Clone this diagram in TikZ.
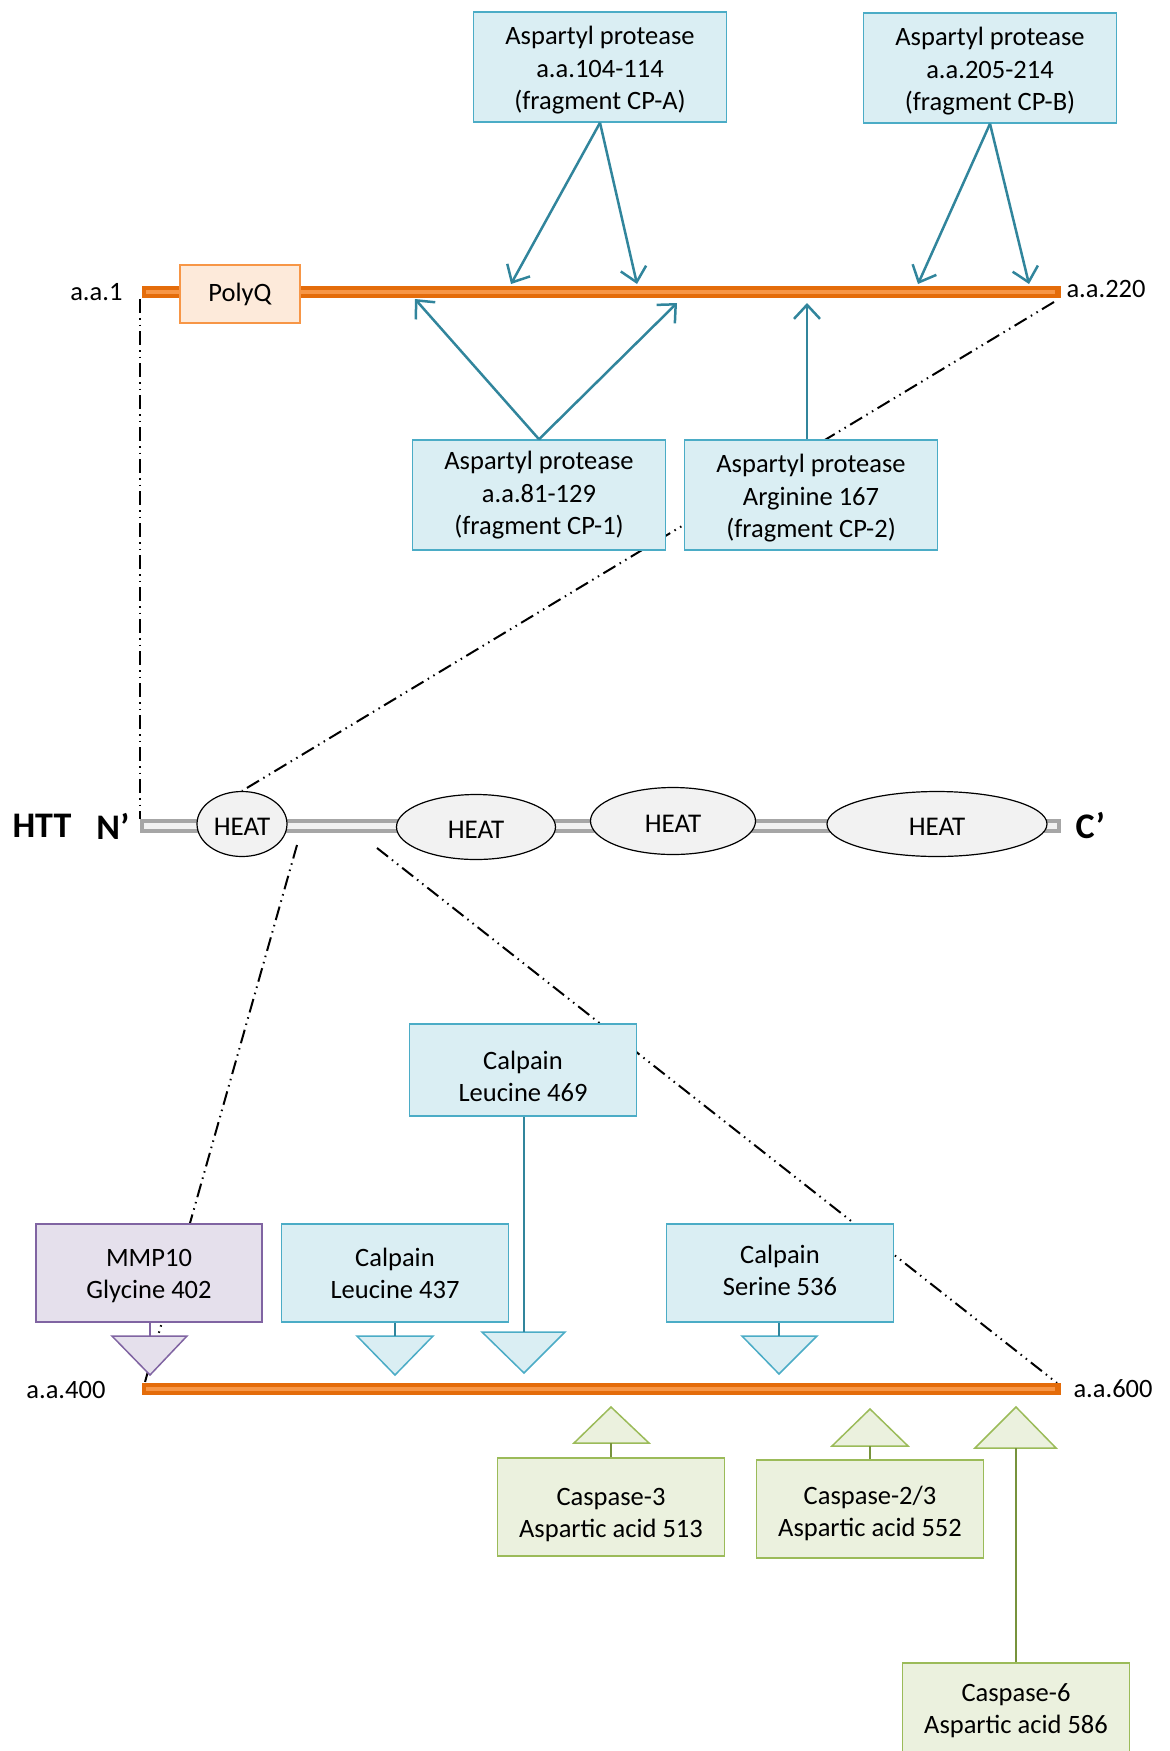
\documentclass[tikz,border=0pt]{standalone}
\usepackage{fontspec}
\setmainfont{Carlito}
\usepackage{tikz}
\usetikzlibrary{arrows.meta, shapes.geometric, positioning}
\definecolor{barorange}{HTML}{E46C0A}
\definecolor{barlight}{HTML}{F79646}
\definecolor{polyfill}{HTML}{FDEADA}
\definecolor{aspfill}{HTML}{DAEEF3}
\definecolor{aspdraw}{HTML}{4BACC6}
\definecolor{aspline}{HTML}{31859C}
\definecolor{mmpfill}{HTML}{E5E0EC}
\definecolor{mmpdraw}{HTML}{8064A2}
\definecolor{caspfill}{HTML}{EBF1DE}
\definecolor{caspdraw}{HTML}{9BBB59}
\definecolor{caspline}{HTML}{77933C}
\definecolor{httgray}{HTML}{A6A6A6}
\definecolor{httfill}{HTML}{F2F2F2}

\begin{document}
\begin{tikzpicture}[
    x=1pt, y=-1pt,
    txt/.style={font=\fontsize{26.5}{32.5}\selectfont, align=center},
    boxtxt/.style={txt, text height=#1, text depth=8pt},
    boxtxt/.default=59pt,
    aa/.style={font=\fontsize{26.5}{30}\selectfont},
    aspbox/.style={boxtxt=93pt, rectangle, draw=aspdraw, fill=aspfill, line width=1.5pt, minimum width=253pt, minimum height=110pt},
    calpbox/.style={boxtxt, rectangle, draw=aspdraw, fill=aspfill, line width=1.5pt, minimum width=227pt, minimum height=98pt},
    mmpbox/.style={boxtxt, rectangle, draw=mmpdraw, fill=mmpfill, line width=1.5pt, minimum width=226pt, minimum height=98pt},
    caspbox/.style={boxtxt=63pt, rectangle, draw=caspdraw, fill=caspfill, line width=1.5pt, minimum width=227pt, minimum height=98pt},
    heat/.style={ellipse, draw, fill=httfill, line width=1.2pt, font=\fontsize{27}{30}\selectfont, inner sep=0pt, text height=23pt, text depth=0pt},
    cut/.style={-{Straight Barb[length=14pt, width=26pt, line width=2.5pt]}, aspline, line width=2.5pt},
    zoomline/.style={line width=2pt, dash pattern=on 14pt off 5pt on 1.5pt off 5pt on 1.5pt off 5pt},
    bigfont/.style={font=\fontsize{36}{40}\selectfont\bfseries}
]
    \clip (0,0) rectangle (1170,1751);

    % HTT bar
    \fill[httgray] (140,819) rectangle (1061,833);
    \fill[httfill] (144,823) rectangle (1057,829);
    \node[heat, minimum width=90pt, minimum height=65pt] (heat1) at (242,824) {HEAT};
    \node[heat, minimum width=159pt, minimum height=65pt] (heat2) at (476,827) {HEAT};
    \node[heat, minimum width=165pt, minimum height=67pt] (heat3) at (673,821) {HEAT};
    \node[heat, minimum width=220pt, minimum height=65pt] (heat4) at (937,824) {HEAT};
    \node[bigfont, anchor=west] (htt) at (9,826) {HTT};
    \node[bigfont, anchor=east] (nterm) at (133,826) {N’};
    \node[bigfont, anchor=west] (cterm) at (1072,826) {C’};

    % Zoom lines
    \coordinate (top-l) at (140,299);
    \coordinate (top-r) at (1054,302);
    \coordinate (low-l) at (145,1382);
    \coordinate (low-r) at (1057,1383);
    \coordinate (htt-l) at (140,819);
    \coordinate (zoom-a) at (297,845);
    \coordinate (zoom-b) at (377,848);
    \draw[zoomline] (top-l) -- (htt-l);
    \draw[zoomline] (top-r) -- (heat1.north);
    \draw[zoomline] (zoom-a) -- (low-l);
    \draw[zoomline] (zoom-b) -- (low-r);

    % a.a.1 - a.a.220
    \fill[barorange] (142,286) rectangle (1061,298);
    \fill[barlight] (146,290) rectangle (1055,294);
    \node[aa, anchor=east] (aa1) at (126,292) {a.a.1};
    \node[aa, anchor=west] (aa220) at (1063,289) {a.a.220};
    \node[txt, rectangle, draw=barlight, fill=polyfill, line width=1.5pt, minimum width=120pt, minimum height=58pt] (polyq) at (240,294) {PolyQ};

    % Aspartyl protease
    \node[aspbox] (cpa) at (600,67) {Aspartyl protease\\a.a.104-114\\(fragment CP-A)};
    \node[aspbox] (cpb) at (990,68) {Aspartyl protease\\a.a.205-214\\(fragment CP-B)};
    \node[aspbox, boxtxt=87pt] (cp1) at (539,495) {Aspartyl protease\\a.a.81-129\\(fragment CP-1)};
    \node[aspbox] (cp2) at (811,495) {Aspartyl protease\\Arginine 167\\(fragment CP-2)};
    \coordinate (sa1) at (511,284);
    \coordinate (sa2) at (637,284);
    \coordinate (sb1) at (918,284);
    \coordinate (sb2) at (1029,284);
    \coordinate (s11) at (415,299);
    \coordinate (s12) at (677,303);
    \coordinate (s2) at (807,303);
    \draw[cut] (cpa.south) -- (sa1);
    \draw[cut] (cpa.south) -- (sa2);
    \draw[cut] (cpb.south) -- (sb1);
    \draw[cut] (cpb.south) -- (sb2);
    \draw[cut] (cp1.north) -- (s11);
    \draw[cut] (cp1.north) -- (s12);
    \draw[cut] (cp2.north -| s2) -- (s2);

    % a.a.400 - a.a.600
    \fill[barorange] (142,1383) rectangle (1061,1395);
    \fill[barlight] (146,1387) rectangle (1055,1391);
    \node[aa, anchor=east] (aa400) at (109,1390) {a.a.400};
    \node[aa, anchor=west] (aa600) at (1070,1389) {a.a.600};

    % MMP10 and calpain
    \node[mmpbox] (mmp) at (149,1273) {MMP10\\Glycine 402};
    \node[calpbox] (c437) at (395,1273) {Calpain\\Leucine 437};
    \node[calpbox, boxtxt=71pt, minimum height=92pt] (c469) at (523,1070) {Calpain\\Leucine 469};
    \node[calpbox, boxtxt=53pt] (c536) at (780,1273) {Calpain\\Serine 536};
    \filldraw[draw=mmpdraw, fill=mmpfill, line width=1.5pt] (112,1336) -- (187,1336) -- (150,1375) -- cycle;
    \filldraw[draw=aspdraw, fill=aspfill, line width=1.5pt] (357,1336) -- (433,1336) -- (395,1375) -- cycle;
    \filldraw[draw=aspdraw, fill=aspfill, line width=1.5pt] (482,1332) -- (565,1332) -- (524,1373) -- cycle;
    \filldraw[draw=aspdraw, fill=aspfill, line width=1.5pt] (742,1336) -- (817,1336) -- (779,1374) -- cycle;
    \coordinate (tmmp) at (150,1336);
    \coordinate (t437) at (395,1336);
    \coordinate (t469) at (524,1332);
    \coordinate (t536) at (779,1336);
    \draw[mmpdraw, line width=1.5pt] (mmp.south -| tmmp) -- (tmmp);
    \draw[aspline, line width=1.5pt] (c437.south) -- (t437);
    \draw[aspline, line width=1.5pt] (c469.south -| t469) -- (t469);
    \draw[aspline, line width=1.5pt] (c536.south -| t536) -- (t536);

    % Caspases
    \node[caspbox, boxtxt=69pt] (cs3) at (611,1507) {Caspase-3\\Aspartic acid 513};
    \node[caspbox] (cs23) at (870,1509) {Caspase-2/3\\Aspartic acid 552};
    \node[caspbox, boxtxt=51pt] (cs6) at (1016,1712) {Caspase-6\\Aspartic acid 586};
    \filldraw[draw=caspdraw, fill=caspfill, line width=1.5pt] (574,1443) -- (649,1443) -- (611,1407) -- cycle;
    \filldraw[draw=caspdraw, fill=caspfill, line width=1.5pt] (832,1446) -- (908,1446) -- (870,1409) -- cycle;
    \filldraw[draw=caspdraw, fill=caspfill, line width=1.5pt] (975,1448) -- (1056,1448) -- (1016,1407) -- cycle;
    \coordinate (t513) at (611,1443);
    \coordinate (t552) at (870,1446);
    \coordinate (t586) at (1016,1448);
    \draw[caspline, line width=1.5pt] (cs3.north) -- (t513);
    \draw[caspline, line width=1.5pt] (cs23.north) -- (t552);
    \draw[caspline, line width=1.5pt] (cs6.north) -- (t586);
\end{tikzpicture}
\end{document}
